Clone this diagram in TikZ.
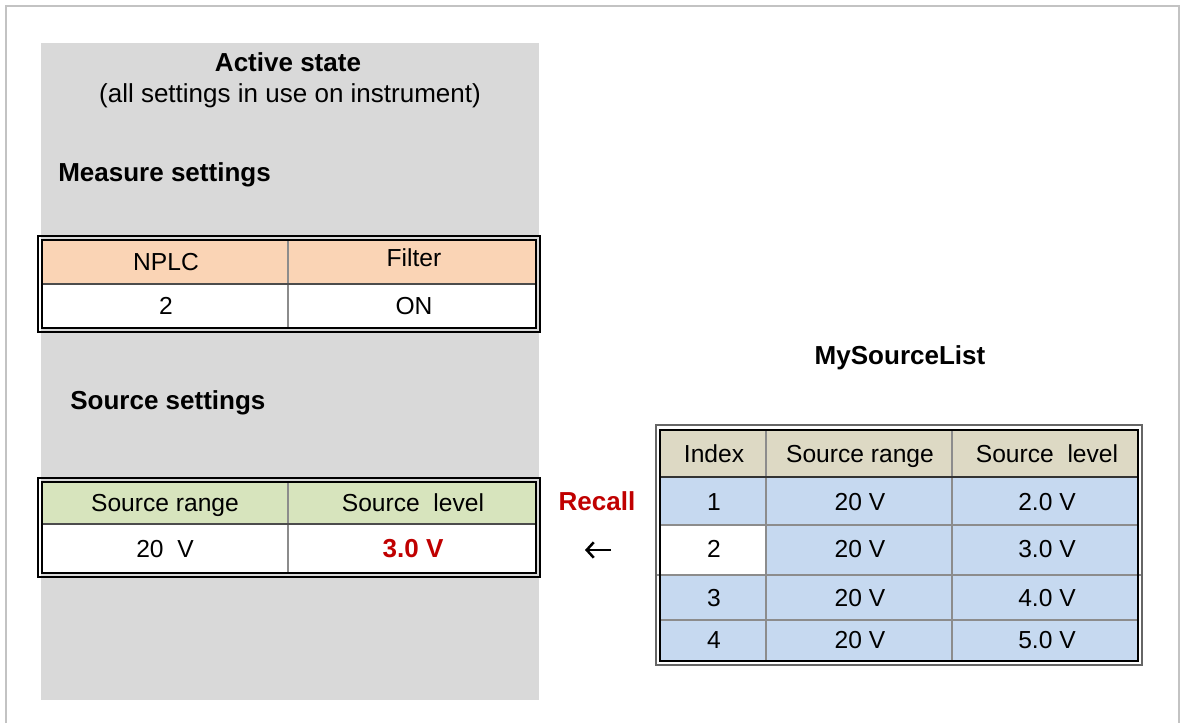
\documentclass[tikz,border=0pt]{standalone}
\usepackage{fontspec}
\setmainfont{Liberation Sans}
\usepackage{tikz}
\usetikzlibrary{arrows.meta}
\definecolor{panelc}{HTML}{D9D9D9}
\definecolor{framec}{HTML}{C3C3C3}
\definecolor{measc}{HTML}{FAD4B5}
\definecolor{srcc}{HTML}{D7E4BD}
\definecolor{listhc}{HTML}{DDD9C4}
\definecolor{listc}{HTML}{C6D9F0}
\definecolor{recallc}{HTML}{C00000}

\begin{document}
\begin{tikzpicture}[x=0.025cm, y=-0.025cm,
    txt/.style={font=\fontsize{17.5}{20}\selectfont, inner sep=0pt, text height=1.3em, text depth=0.2em},
    btxt/.style={font=\fontsize{18.5}{21}\selectfont\bfseries, inner sep=0pt, text height=1.3em, text depth=0.2em},
    rulec/.style={draw=black!45, line width=0.8pt}]
  \useasboundingbox (0,0) rectangle (1181,723);
  \draw[framec, line width=2pt] (6,723) -- (6,6) -- (1179,6) -- (1179,723);
  % active state panel
  \fill[panelc] (41,43) rectangle (539,700);
  \node[btxt] (actv) at (288,64) {Active state};
  \node[txt, font=\fontsize{18.5}{21}\selectfont] (actsub) at (290,95) {(all settings in use on instrument)};
  \node[btxt, anchor=west] (meash) at (58,174) {Measure settings};
  \node[btxt, anchor=west] (srch) at (70,402) {Source settings};
  % measure table
  \fill[white] (42,240) rectangle (536,328);
  \fill[measc] (42,240) rectangle (536,284);
  \draw[rulec] (288,240) -- (288,328);
  \draw[black!70, line width=0.8pt] (42,284) -- (536,284);
  \draw[line width=0.9pt] (38,236) rectangle (540,332);
  \draw[line width=0.9pt] (42,240) rectangle (536,328);
  \node[txt] (nplc) at (166,263) {NPLC};
  \node[txt] (filt) at (414,259) {Filter};
  \node[txt] (nplcv) at (166,307) {2};
  \node[txt] (filtv) at (414,307) {ON};
  % source table
  \fill[white] (42,482) rectangle (536,573);
  \fill[srcc] (42,482) rectangle (536,524);
  \draw[rulec] (288,482) -- (288,573);
  \draw[black!70, line width=0.8pt] (42,524) -- (536,524);
  \draw[line width=0.9pt] (38,478) rectangle (540,577);
  \draw[line width=0.9pt] (42,482) rectangle (536,573);
  \node[txt] (srng) at (165,504) {Source range};
  \node[txt] (slvl) at (413,504) {Source\ \ level};
  \node[txt] (srngv) at (165,550) {20\ \ V};
  \node[btxt, text=recallc] (slvlv) at (413,550) {3.0 V};
  % recall
  \node[btxt, text=recallc] (recall) at (597,503) {Recall};
  \coordinate (arrt) at (611,550);
  \coordinate (arrh) at (585,550);
  \draw[line width=1.8pt, -{Straight Barb[length=5pt, width=11pt]}] (arrt) -- (arrh);
  % source list
  \node[btxt] (listh) at (900,357) {MySourceList};
  \fill[listc] (660,477) rectangle (1138,661);
  \fill[listhc] (660,430) rectangle (1138,477);
  \fill[white] (660,525) rectangle (766,575);
  \draw[rulec] (766,430) -- (766,661);
  \draw[rulec] (952,430) -- (952,661);
  \draw[rulec] (660,525) -- (1138,525);
  \draw[rulec] (656,575) -- (1142,575);
  \draw[rulec] (660,620) -- (1138,620);
  \draw[black!80, line width=1pt] (660,477) -- (1138,477);
  \draw[black!60, line width=0.9pt] (656,425) rectangle (1142,665);
  \draw[line width=0.9pt] (660,430) rectangle (1138,661);
  \node[txt] (idx) at (714,455) {Index};
  \node[txt] (lrng) at (860,455) {Source range};
  \node[txt] (llvl) at (1047,455) {Source\ \ level};
  \foreach \i/\y/\v in {1/503/2.0, 2/550/3.0, 3/599/4.0, 4/641/5.0} {
    \node[txt] (idx\i) at (714,\y) {\i};
    \node[txt] (rng\i) at (860,\y) {20 V};
    \node[txt] (lvl\i) at (1047,\y) {\v\ V};
  }
\end{tikzpicture}
\end{document}
